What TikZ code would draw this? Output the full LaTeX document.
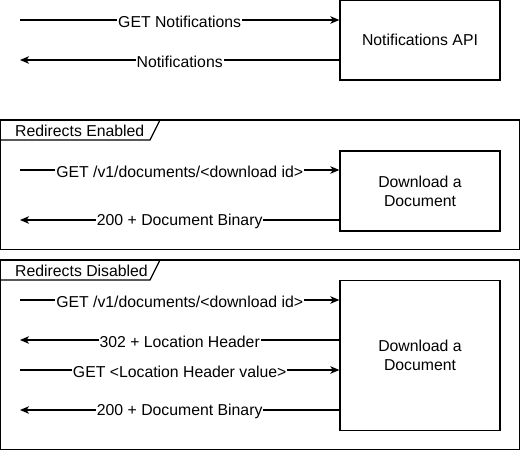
\documentclass[tikz,border=0pt]{standalone}
\usepackage{fontspec}
\setmainfont{Liberation Sans}
\usetikzlibrary{arrows.meta}
\tikzset{>={Stealth[length=9pt,width=7.5pt,inset=2.5pt]}}
\tikzset{
	box/.style={draw,line width=1.3pt,minimum width=160pt,minimum height=80pt,align=center,inner sep=0pt},
	msg/.style={line width=1.3pt},
	lbl/.style={fill=white,inner sep=1pt,yshift=-1.5pt},
	frame/.style={line width=1.3pt},
	tabtext/.style={anchor=west,inner sep=0pt,yshift=-1pt}
}

\begin{document}
\begin{tikzpicture}[x=1pt,y=-1pt,font=\fontsize{15.8}{19}\selectfont]
	\useasboundingbox (0,0) rectangle (521,473);

	\node[box] (api) at (420,40) {Notifications API};
	\coordinate (n1) at (20,20);
	\coordinate (n2) at (20,60);
	\draw[msg,->] (n1) -- (n1 -| api.west) node[lbl,midway]{GET Notifications};
	\draw[msg,<-] (n2) -- (n2 -| api.west) node[lbl,midway]{Notifications};

	\draw[frame] (0.7,120) rectangle (519.5,249.5);
	\draw[frame] (0.7,140) -- (150,140) -- (160,120);
	\node[tabtext] (enabled) at (15,130) {Redirects Enabled};
	\node[box] (dlA) at (420,191) {Download a\\Document};
	\coordinate (e1) at (20,170);
	\coordinate (e2) at (20,220);
	\draw[msg,->] (e1) -- (e1 -| dlA.west) node[lbl,midway]{GET /v1/documents/<download id>};
	\draw[msg,<-] (e2) -- (e2 -| dlA.west) node[lbl,midway]{200 + Document Binary};

	\draw[frame] (0.7,260) rectangle (519.5,449.5);
	\draw[frame] (0.7,280) -- (150,280) -- (160,260);
	\node[tabtext] (disabled) at (15,270) {Redirects Disabled};
	\node[box,minimum height=150pt] (dlB) at (420,355.5) {Download a\\Document};
	\coordinate (d1) at (20,300);
	\coordinate (d2) at (20,340);
	\coordinate (d3) at (20,370);
	\coordinate (d4) at (20,410);
	\draw[msg,->] (d1) -- (d1 -| dlB.west) node[lbl,midway]{GET /v1/documents/<download id>};
	\draw[msg,<-] (d2) -- (d2 -| dlB.west) node[lbl,midway]{302 + Location Header};
	\draw[msg,->] (d3) -- (d3 -| dlB.west) node[lbl,midway]{GET <Location Header value>};
	\draw[msg,<-] (d4) -- (d4 -| dlB.west) node[lbl,midway]{200 + Document Binary};
\end{tikzpicture}
\end{document}
